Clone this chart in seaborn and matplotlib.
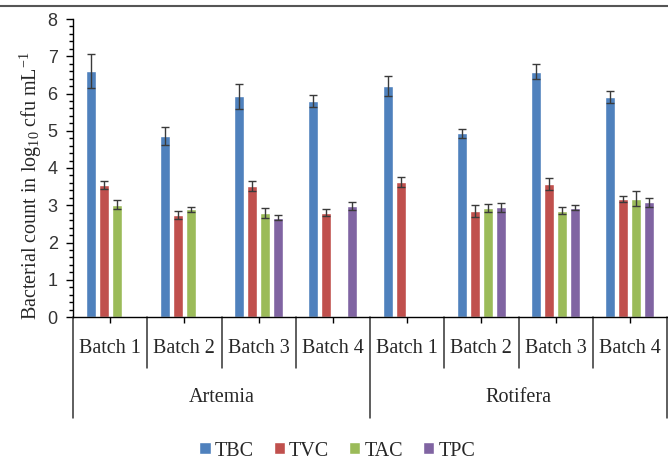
import numpy as np
import pandas as pd
import seaborn as sns
from matplotlib import pyplot as plt
from matplotlib.ticker import AutoMinorLocator, MultipleLocator
from matplotlib.lines import Line2D
import matplotlib.transforms as mtransforms

sns.set_theme(style="white")
plt.rcParams["font.family"] = ["Liberation Serif", "DejaVu Serif"]
plt.rcParams["mathtext.fontset"] = "custom"
plt.rcParams["mathtext.rm"] = "Liberation Serif"
plt.rcParams["mathtext.it"] = "Liberation Serif:italic"

groups = ["Artemia"] * 4 + ["Rotifera"] * 4
batches = ["Batch 1", "Batch 2", "Batch 3", "Batch 4"] * 2
count_types = ["TBC", "TVC", "TAC", "TPC"]
colors = ["#4F81BD", "#C0504D", "#9BBB59", "#8064A2"]

nan = np.nan
tbc = [6.61, 4.86, 5.92, 5.79, 6.20, 4.93, 6.59, 5.90]
tbc_err = [0.45, 0.24, 0.34, 0.16, 0.27, 0.13, 0.20, 0.16]
tvc = [3.54, 2.74, 3.52, 2.80, 3.62, 2.84, 3.56, 3.16]
tvc_err = [0.11, 0.10, 0.13, 0.10, 0.14, 0.16, 0.16, 0.08]
tac = [3.02, 2.89, 2.80, nan, nan, 2.93, 2.85, 3.17]
tac_err = [0.12, 0.07, 0.13, nan, nan, 0.11, 0.09, 0.20]
tpc = [nan, nan, 2.67, 2.97, nan, 2.94, 2.93, 3.08]
tpc_err = [nan, nan, 0.06, 0.11, nan, 0.13, 0.07, 0.12]

slots = [f"{g} {b}" for g, b in zip(groups, batches)]
values = {"TBC": tbc, "TVC": tvc, "TAC": tac, "TPC": tpc}
errors = {"TBC": tbc_err, "TVC": tvc_err, "TAC": tac_err, "TPC": tpc_err}

rows = []
for t in count_types:
    for s, v, e in zip(slots, values[t], errors[t]):
        rows.append({"slot": s, "type": t, "value": v, "err": e})
df = pd.DataFrame(rows).dropna()

fig = plt.figure(figsize=(6.68, 4.63), dpi=100)
ax = fig.add_axes([73 / 668, 1 - 317 / 463, 594 / 668, 298 / 463])

sns.barplot(ax=ax, data=df, x="slot", y="value", hue="type", order=slots,
            hue_order=count_types, palette=colors, width=0.7, gap=0.23,
            errorbar=None, saturation=1, legend=True)

# error bars at the bar tops, matched by bar centre
for t, cont in zip(count_types, ax.containers):
    for bar in cont:
        cx = bar.get_x() + bar.get_width() / 2
        idx = int(round(cx))
        v = values[t][idx]
        e = errors[t][idx]
        if np.isnan(v):
            continue
        ax.errorbar(cx, v, yerr=e, fmt="none", ecolor="#3a3a3a",
                    elinewidth=1.0, capsize=3.2, capthick=1.0)

ax.set_xlim(-0.5, 7.5)
ax.set_ylim(0, 8)
ax.yaxis.set_major_locator(MultipleLocator(1))
ax.yaxis.set_minor_locator(AutoMinorLocator(5))
ax.tick_params(axis="y", which="major", direction="out", length=5, width=1,
               color="black", left=True, labelsize=13, pad=6)
ax.tick_params(axis="y", which="minor", direction="out", length=3, width=1,
               color="black", left=True)
for lab in ax.get_yticklabels():
    lab.set_fontfamily(["Liberation Sans", "DejaVu Sans"])
    lab.set_color("#333333")

ax.set_xticks(range(8))
ax.set_xticklabels(batches, fontsize=14.5)
ax.tick_params(axis="x", direction="out", length=4, width=1, color="black",
               bottom=True, pad=12)

ax.set_xlabel("")
ax.set_ylabel(r"Bacterial count in log$_{10}$ cfu mL$^{-1}$", fontsize=14.5)
ax.yaxis.set_label_coords(-0.048, 0.44)

for side in ["top", "right"]:
    ax.spines[side].set_visible(False)
ax.spines["left"].set_color("black")
ax.spines["bottom"].set_color("black")
ax.spines["left"].set_linewidth(1)
ax.spines["bottom"].set_linewidth(1)

# category separators below the axis
trans = mtransforms.blended_transform_factory(ax.transData, ax.transAxes)
short_drop = -51 / 298
long_drop = -101 / 298
for i in range(9):
    xb = i - 0.5
    low = long_drop if i in (0, 4, 8) else short_drop
    ax.add_line(Line2D([xb, xb], [0, low], transform=trans, color="#333333",
                       lw=1.1, clip_on=False))

for name, xc in [("Artemia", 1.5), ("Rotifera", 5.5)]:
    ax.text(xc, -81 / 298, name, transform=trans, ha="center", va="center",
            fontsize=14.5)

handles, labels = ax.get_legend_handles_labels()
ax.legend(handles, labels, loc="center", bbox_to_anchor=(0.505, 1 - 451 / 463),
          bbox_transform=fig.transFigure, ncol=4, frameon=False, fontsize=14.5,
          handlelength=0.55, handleheight=0.55, handletextpad=0.2,
          columnspacing=1.0)

# frame line across the top of the picture
fig.add_artist(Line2D([0, 1], [1 - 6 / 463, 1 - 6 / 463], transform=fig.transFigure,
                      color="#555555", lw=1.5))

plt.savefig("out.png", dpi=100)
